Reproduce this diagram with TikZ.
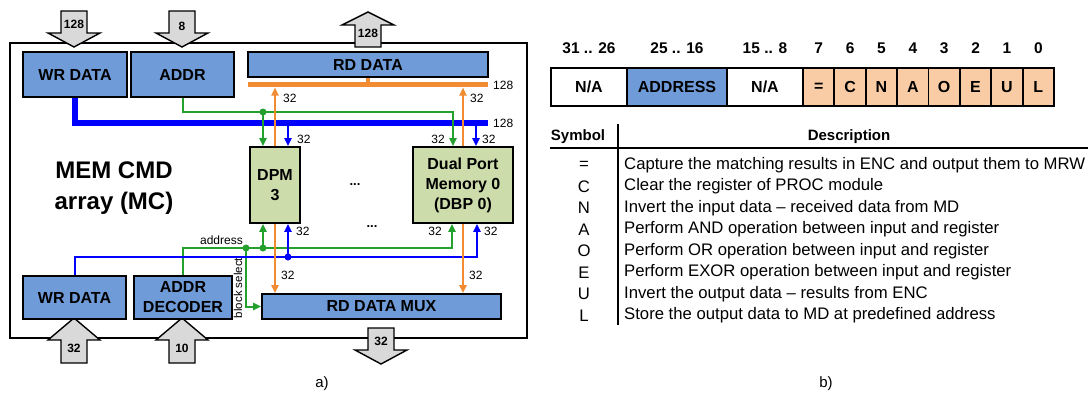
\documentclass[tikz,border=0pt]{standalone}
\usepackage{fontspec}
\setmainfont{Liberation Sans}
\usepackage{tikz}
\usetikzlibrary{arrows.meta,positioning,calc}

\definecolor{boxblue}{RGB}{111,155,217}
\definecolor{dpmgreen}{RGB}{204,220,170}
\definecolor{busorange}{RGB}{242,140,50}
\definecolor{selgreen}{RGB}{35,160,45}
\definecolor{peach}{RGB}{250,204,166}
\definecolor{iogray}{RGB}{217,217,217}

\newcommand{\pxsize}[2]{\fontsize{#1}{#2}\selectfont}

\tikzset{
  unit/.style={draw, line width=1.6pt, fill=boxblue, inner sep=0pt, align=center, font=\pxsize{16}{20}\bfseries},
  mem/.style={unit, fill=dpmgreen},
  obus/.style={busorange, line width=5pt},
  bbus/.style={blue, line width=6pt},
  oline/.style={busorange, line width=2.4pt},
  gline/.style={selgreen, line width=2pt},
  bline/.style={blue, line width=2pt},
  arr/.style={-{Triangle[length=8pt,width=7pt]}},
  bw/.style={font=\pxsize{12}{14}, inner sep=1pt},
  iolbl/.style={font=\pxsize{12}{14}\bfseries, inner sep=0pt},
  ioshape/.style={draw, line width=1.4pt, fill=iogray, line join=miter},
  joint/.style={circle, fill=#1, inner sep=0pt, minimum size=7pt},
  field/.style={draw, line width=1.8pt, fill=white, minimum height=38, inner sep=0pt, font=\pxsize{16}{20}\bfseries},
  bit/.style={font=\pxsize{15.5}{18}\bfseries, inner sep=0pt},
  thead/.style={font=\pxsize{15}{18}\bfseries, inner sep=0pt},
  rowtxt/.style={font=\pxsize{16.7}{20}, inner sep=1pt},
  rule/.style={line width=1.6pt},
  % gray bus arrows through the array border
  inarr/.pic={\draw[ioshape] (-13,0) -- (13,0) -- (13,22) -- (26,22) -- (0,36) -- (-26,22) -- (-13,22) -- cycle;},
  outarr/.pic={\draw[ioshape] (-13,0) -- (13,0) -- (13,-22) -- (26,-22) -- (0,-35) -- (-26,-22) -- (-13,-22) -- cycle;},
  botarr/.pic={\draw[ioshape] (0,0) -- (26,22) -- (13,22) -- (13,45) -- (-13,45) -- (-13,22) -- (-26,22) -- cycle;},
}

\begin{document}
\begin{tikzpicture}[x=1pt,y=-1pt]
  \useasboundingbox (0,0) rectangle (1090,396);

  % ---- a) MEM CMD array
  \node[draw, line width=2.4pt, minimum width=517, minimum height=295, inner sep=0pt] (mcbox) at (268.5,190.5) {};
  \node[font=\fontsize{24}{31}\selectfont\bfseries, align=center] (mctitle) at (114,188) {MEM CMD\\array (MC)};

  % outside buses
  \pic at (74,11) {inarr};
  \pic at (182,11) {inarr};
  \pic at (368,47) {outarr};
  \pic at (74,318) {botarr};
  \pic at (182,318) {botarr};
  \pic at (381,328) {inarr};
  \node[iolbl] (lwrin) at (74,24) {128};
  \node[iolbl] (laddr) at (182,26) {8};
  \node[iolbl] (lrdout) at (368,33) {128};
  \node[iolbl] (lwrlo) at (74,348) {32};
  \node[iolbl] (ldec) at (182,348) {10};
  \node[iolbl] (lmux) at (381,341) {32};

  % units
  \node[unit, minimum width=104, minimum height=45] (wrin) at (75,74.5) {WR DATA};
  \node[unit, minimum width=103, minimum height=45] (addr) at (182.5,74.5) {ADDR};
  \node[unit, minimum width=240, minimum height=25] (rdout) at (368,64.5) {RD DATA};
  \node[mem, minimum width=50, minimum height=76] (dpm) at (275,185) {DPM\\3};
  \node[mem, minimum width=100, minimum height=76] (dbp) at (463,185) {Dual Port\\Memory 0\\(DBP 0)};
  \node[unit, minimum width=103, minimum height=43] (wrlo) at (74.5,297.5) {WR DATA};
  \node[unit, minimum width=98, minimum height=43] (dec) at (183,297.5) {ADDR\\DECODER};
  \node[unit, minimum width=239, minimum height=25] (mux) at (381.5,306.5) {RD DATA MUX};
  \node[font=\pxsize{13}{15}\bfseries] (dots1) at (355,185) {...};
  \node[font=\pxsize{13}{15}\bfseries] (dots2) at (372,227) {...};

  % port positions on the memories
  \coordinate (dpmGt) at ($(dpm.north)+(-12,0)$);
  \coordinate (dpmBt) at ($(dpm.north)+(13,0)$);
  \coordinate (dpmGb) at ($(dpm.south)+(-12,0)$);
  \coordinate (dpmBb) at ($(dpm.south)+(13,0)$);
  \coordinate (dbpGt) at ($(dbp.north)+(-10,0)$);
  \coordinate (dbpBt) at ($(dbp.north)+(13,0)$);
  \coordinate (dbpGb) at ($(dbp.south)+(-11,0)$);
  \coordinate (dbpBb) at ($(dbp.south)+(14,0)$);

  % read data bus
  \coordinate (obL) at (248,85);
  \coordinate (obR) at (488,85);
  \draw[obus] (obL) -- (obR);
  \draw[busorange, line width=4pt] (rdout.south) -- (rdout.south |- obL);
  \node[bw, anchor=west] (wob) at ($(obR)+(4,0)$) {128};

  % write data bus
  \coordinate (bbR) at (488,123);
  \draw[bbus] (wrin.south) |- (bbR);
  \node[bw, anchor=west] (wbb) at ($(bbR)+(4,0)$) {128};
  \draw[bline, arr] (dpmBt |- bbR) -- (dpmBt);
  \draw[bline, arr] (dbpBt |- bbR) -- (dbpBt);

  % address from ADDR
  \node[joint=selgreen] (jgt) at (263,112) {};
  \draw[gline, arr] (addr.south) |- (dbpGt |- jgt) -- (dbpGt);
  \draw[gline, arr] (jgt.center) -- (dpmGt);

  % address and block select from the decoder
  \node[joint=selgreen] (jga) at (263,248) {};
  \node[joint=selgreen] (jgs) at (246,248) {};
  \draw[gline, arr] (dec.north) |- (dbpGb |- jga) -- (dbpGb);
  \draw[gline, arr] (jga.center) -- (dpmGb);
  \draw[gline, arr] (jgs.center) |- (mux.west);
  \node[bw, anchor=south east] (laddress) at ($(jgs)+(-2,-2)$) {address};
  \node[font=\pxsize{11.5}{14}, inner sep=0pt, rotate=90] (lblock) at (238,288) {block select};

  % write data from the lower WR DATA
  \node[joint=blue] (jb) at (288,257) {};
  \draw[bline, arr] (wrlo.north) |- (dbpBb |- jb) -- (dbpBb);
  \draw[bline, arr] (jb.center) -- (dpmBb);

  % read data to RD DATA and RD DATA MUX
  \draw[oline, arr, shorten >=2.5pt] (dpm.north) -- (dpm.north |- obL);
  \draw[oline, arr, shorten >=2.5pt] (dbp.north) -- (dbp.north |- obL);
  \draw[oline, arr] (dpm.south) -- (dpm.south |- mux.north);
  \draw[oline, arr] (dbp.south) -- (dbp.south |- mux.north);

  % bus widths
  \node[bw, anchor=west] (w1) at (282,98) {32};
  \node[bw, anchor=west] (w2) at (469,98) {32};
  \node[bw, anchor=west] (w3) at (296,139) {32};
  \node[bw, anchor=west] (w4) at (481,139) {32};
  \node[bw, anchor=east] (w5) at (446,139) {32};
  \node[bw, anchor=west] (w6) at (295,231) {32};
  \node[bw, anchor=west] (w7) at (483,231) {32};
  \node[bw, anchor=east] (w8) at (443,231) {32};
  \node[bw, anchor=west] (w9) at (280,275) {32};
  \node[bw, anchor=west] (w10) at (468,275) {32};

  \node[font=\pxsize{15}{18}] (capa) at (322,384) {a)};

  % ---- b) command word
  \node[bit] (b31) at (589,48) {31 .. 26};
  \node[bit] (b25) at (677,48) {25 .. 16};
  \node[bit] (b15) at (765,48) {15 .. 8};
  \node[field, minimum width=76] (fna1) at (589,87) {N/A};
  \node[field, fill=boxblue, minimum width=100] (faddr) at (677,87) {ADDRESS};
  \node[field, minimum width=76] (fna2) at (765,87) {N/A};
  \foreach \s [count=\i from 0] in {=,C,N,A,O,E,U,L} {
    \pgfmathsetmacro\fx{803+31.375*(\i+0.5)}
    \pgfmathtruncatemacro\bitno{7-\i}
    \node[field, fill=peach, minimum width=31.375] (flag\i) at (\fx,87) {\s};
    \node[bit] (bit\i) at (\fx,48) {\bitno};
  }

  % symbol table
  \node[thead] (hsym) at (578,137) {Symbol};
  \node[thead] (hdesc) at (849,137) {Description};
  \draw[rule] (550,148) -- (1088,148);
  \draw[rule] (618,124) -- (618,325);
  \foreach \s/\t [count=\i from 0] in {
      =/Capture the matching results in ENC and output them to MRW,
      C/Clear the register of PROC module,
      N/Invert the input data – received data from MD,
      A/Perform AND operation between input and register,
      O/Perform OR operation between input and register,
      E/Perform EXOR operation between input and register,
      U/Invert the output data – results from ENC,
      L/Store the output data to MD at predefined address} {
    \node[rowtxt] (sym\i) at (584,165+21.5*\i) {\s};
    \node[rowtxt, anchor=west] (desc\i) at (623,165+21.5*\i) {\t};
  }

  \node[font=\pxsize{15}{18}] (capb) at (826,384) {b)};
\end{tikzpicture}
\end{document}
